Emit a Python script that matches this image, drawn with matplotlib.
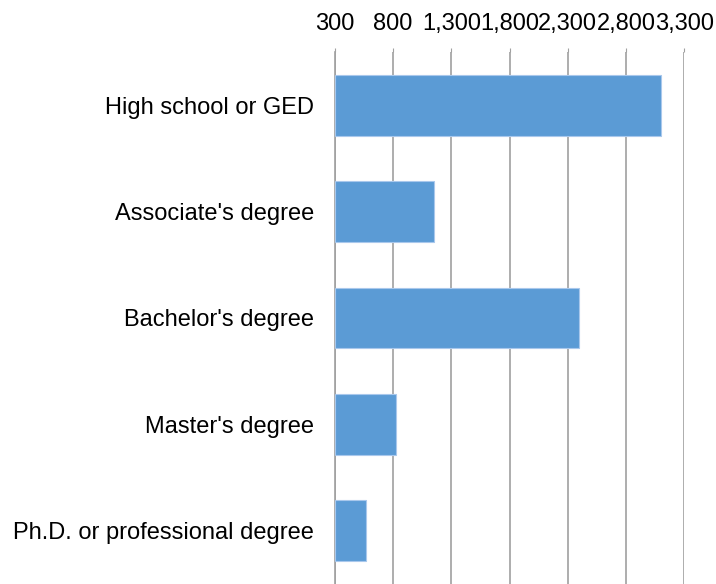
import matplotlib.pyplot as plt
from matplotlib.ticker import FuncFormatter

categories = ["High school or GED", "Associate's degree", "Bachelor's degree",
              "Master's degree", "Ph.D. or professional degree"]
values = [3100, 1155, 2395, 830, 572]
x_ticks = [300, 800, 1300, 1800, 2300, 2800, 3300]

plt.rcParams['font.family'] = ['Liberation Sans', 'DejaVu Sans']

fig = plt.figure(figsize=(7.16, 5.84), dpi=100)
ax = fig.add_axes([0.4675, 0.0, 0.4883, 0.911])

base = x_ticks[0]
ypos = list(range(len(categories)))
ax.barh(ypos, [v - base for v in values], left=base, height=0.57,
        color='#5B9BD5', edgecolor='#a9c8ec', linewidth=0.8, zorder=3)

ax.set_xlim(x_ticks[0], x_ticks[-1])
ax.set_ylim(len(categories) - 0.5, -0.5)
ax.set_xticks(x_ticks)
ax.xaxis.set_major_formatter(FuncFormatter(lambda v, p: f'{int(v):,}'))
ax.xaxis.tick_top()
ax.tick_params(axis='x', length=3, width=0.8, color='#a0a0a0', pad=9,
               labelsize=17, labelcolor='black')
ax.set_yticks(ypos)
ax.set_yticklabels(categories)
ax.tick_params(axis='y', length=0, pad=15, labelsize=17, labelcolor='black')

ax.grid(axis='x', color='#a0a0a0', linewidth=1.2, zorder=0)
for s in ['top', 'right', 'bottom']:
    ax.spines[s].set_visible(False)
ax.spines['left'].set_color('#a0a0a0')
ax.spines['left'].set_linewidth(1.2)

fig.savefig('out.png', dpi=100)
